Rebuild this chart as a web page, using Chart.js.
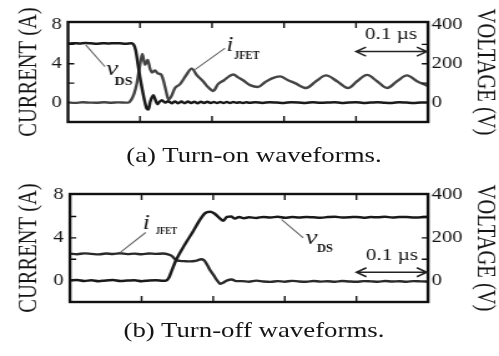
<!DOCTYPE html>
<html>
<head>
<meta charset="utf-8">
<script src="https://cdn.jsdelivr.net/npm/chart.js@4"></script>
<style>
  html, body { margin: 0; padding: 0; background: #fff; overflow: hidden; }
  #fig { position: absolute; left: 0; top: 0; width: 400px; height: 356px;
         transform: scaleX(1.2475); transform-origin: 0 0; }
  #fig canvas { position: absolute; left: 0; }
  .cap { position: absolute; left: 3.6px; width: 400px; text-align: center;
         font: 21.5px/21.5px 'Liberation Serif', serif; color: #151515; }
</style>
</head>
<body>
<div id="fig">
  <canvas id="turnOn" width="400" height="150" style="top:0"></canvas>
  <canvas id="turnOff" width="400" height="181" style="top:175px"></canvas>
  <div class="cap" style="top:145px">(a) Turn-on waveforms.</div>
  <div class="cap" style="top:320px">(b) Turn-off waveforms.</div>
</div>
<script>
// time in ns, current in A, voltage in V

// (a) turn-on
const onVdsTime = [0,8,16,24,32,40,48,56,64,72,80,88,
  91,94,97,100,103,106,109,111.5,114.5,118.5,121.5,124,127,130.5,134.5,139,
  144,148.5,153,157.5,162,166.5,171,175.5,180,184.5,189,193.5,198,202.5,207,211.5,216,220.5,225,229.5,234,238.5,243,247.5,252,
  260,270,280,290,300,310,320,330,340,350,360,370,380,390,400,410,420,430,440,450,460,470,480,490,500];
const onVds = [303,306,304,307,305,303,306,304,306,305,303,305,
  300,270,200,130,70,15,-28,-36,8,38,12,-8,4,12,0,7,
  -3,6,-3,5,-3,5,-2,4,-3,4,-2,4,-2,3,-2,3,-2,3,-2,3,-1,2,-2,2,-1,
  2,-2,2,0,-2,2,1,-2,2,-1,0,2,-2,1,2,-2,0,2,-1,-2,2,0,-2,1,0];

const onIjTime = [0,10,20,30,40,50,60,70,80,
  84,87.5,91.7,95.4,100,103.2,106.9,110.7,113.9,116.7,120.8,125,129.2,132.4,136.1,139.6,143.1,148.6,155.6,163.9,
  171.8,179.2,187.5,194.4,201.8,208.3,216.7,223.6,229.6,236.1,243.1,252.8,263.9,273.6,283.3,294.4,305.6,315.3,
  330.6,344.4,358.3,373.6,388.9,401.4,415.3,429.2,443.1,456.9,470.8,484.7,500];
const onIj = [0.02,-0.03,0.03,0,-0.02,0.03,-0.01,0.02,0,
  0,0.25,0.9,1.9,3.9,5.0,3.9,4.4,3.5,3.1,3.3,3.0,2.9,2.3,1.2,0.3,0.6,1.5,1.9,2.8,
  3.5,2.8,2.2,1.6,1.2,1.9,2.3,2.7,2.9,2.6,2.3,1.8,1.6,2.1,2.5,2.7,2.3,2.0,
  1.5,2.2,2.8,2.2,1.5,2.2,2.85,2.2,1.5,2.2,2.8,2.2,1.7];

// (b) turn-off
const offVdsTime = [0,10,20,30,40,50,60,70,80,90,100,110,120,130,
  134,138.3,142.5,148,160.6,171.8,181.6,188.5,195.5,201.1,208.1,213.7,219.3,224.9,230.4,236,243,
  250,260,270,280,290,300,310,320,330,340,350,360,370,380,390,400,410,420,430,440,450,460,470,480,490,500];
const offVds = [0,3,-2,2,-3,1,3,-2,0,2,-3,1,2,-1,
  0,15,50,95,170,230,285,315,322,315,295,280,298,300,290,298,292,
  296,293,298,295,299,294,297,295,298,296,294,297,299,295,296,298,294,297,296,299,295,297,298,295,296,297];

const offIjTime = [0,10,20,30,40,50,60,70,80,90,100,110,120,130,
  137,142.5,146,149,153.6,160,167.6,174,178,183,187.2,191.3,195.5,200.1,203.9,207.1,209.5,213.7,218.9,225.9,231.8,
  240,250,260,270,280,290,300,310,320,330,340,350,360,370,380,390,400,410,420,430,440,450,460,470,480,490,500];
const offIj = [2.52,2.47,2.55,2.5,2.45,2.53,2.49,2.56,2.48,2.52,2.46,2.54,2.5,2.53,
  2.45,2.3,2.05,1.9,1.85,1.82,1.8,1.83,1.9,2.0,1.9,1.5,1.0,0.56,0.15,-0.12,-0.3,-0.2,0,0.1,-0.05,
  -0.05,-0.1,0,-0.08,-0.12,-0.05,-0.1,-0.02,-0.08,-0.1,-0.04,-0.09,-0.06,-0.1,-0.03,-0.08,-0.11,-0.05,-0.07,-0.1,-0.04,-0.08,-0.06,-0.1,-0.05,-0.07,-0.08];

// axes
const currentTicks = [0, 4, 8];
const voltTicks = [0, 200, 400];
const currentMarks = [2, 4, 6];
const voltMarks = [100, 200, 300];
const timeMarks = [100, 200, 300, 400];
const spanLabel = '0.1 µs';
const spanTime = [400, 500];

const SERIF = "'Liberation Serif', 'Times New Roman', serif";

const pts = (ts, vs) => ts.map((t, i) => ({x: t, y: vs[i]}));

// frame, inside tick marks, axis titles and trace labels
const scopeFrame = {
  id: 'scopeFrame',
  afterDatasetsDraw(chart, args, o) {
    const {ctx, chartArea: a, scales: {x, yA, yV}} = chart;
    const px = t => x.getPixelForValue(t);
    const py = v => yA.getPixelForValue(v);
    ctx.save();
    ctx.strokeStyle = '#111';
    ctx.lineWidth = 1.4;
    ctx.beginPath();
    timeMarks.forEach(t => {
      ctx.moveTo(px(t), a.top); ctx.lineTo(px(t), a.top + 6);
      ctx.moveTo(px(t), a.bottom); ctx.lineTo(px(t), a.bottom - 6);
    });
    currentMarks.forEach(v => { ctx.moveTo(a.left, py(v)); ctx.lineTo(a.left + 5, py(v)); });
    voltMarks.forEach(v => { const y = yV.getPixelForValue(v); ctx.moveTo(a.right, y); ctx.lineTo(a.right - 5, y); });
    ctx.stroke();
    ctx.lineWidth = 2.4;
    ctx.strokeRect(a.left, a.top, a.width, a.height);

    // leader lines
    ctx.strokeStyle = '#666';
    ctx.lineWidth = 1.1;
    ctx.beginPath();
    o.leaders.forEach(l => { ctx.moveTo(px(l[0]), py(l[1])); ctx.lineTo(px(l[2]), py(l[3])); });
    ctx.stroke();

    // 0.1 us arrow
    const ay = py(o.arrowA), x1 = px(spanTime[0]), x2 = px(spanTime[1]) - 1;
    ctx.strokeStyle = '#222';
    ctx.lineWidth = 1.5;
    ctx.beginPath();
    ctx.moveTo(x1, ay); ctx.lineTo(x2, ay);
    ctx.moveTo(x1 + 8, ay - 4.5); ctx.lineTo(x1, ay); ctx.lineTo(x1 + 8, ay + 4.5);
    ctx.moveTo(x2 - 8, ay - 4.5); ctx.lineTo(x2, ay); ctx.lineTo(x2 - 8, ay + 4.5);
    ctx.stroke();

    ctx.fillStyle = '#151515';
    ctx.textAlign = 'center';
    ctx.textBaseline = 'middle';
    o.labels.forEach(l => {
      ctx.font = l.font;
      if (l.w) ctx.fillText(l.text, px(l.t), py(l.a), l.w);
      else ctx.fillText(l.text, px(l.t), py(l.a));
    });
    ctx.font = '17px ' + SERIF;
    ctx.fillText(spanLabel, px(o.spanAt[0]), py(o.spanAt[1]));

    // axis titles
    const mid = (a.top + a.bottom) / 2;
    ctx.font = '20.5px ' + SERIF;
    ctx.save();
    ctx.translate(23.5, mid); ctx.rotate(-Math.PI / 2);
    ctx.fillText('CURRENT (A)', 0, 0);
    ctx.restore();
    ctx.save();
    ctx.translate(388.8, mid); ctx.rotate(Math.PI / 2);
    ctx.fillText('VOLTAGE (V)', 0, 0);
    ctx.restore();
    ctx.restore();
  }
};

function makePanel(id, p) {
  new Chart(document.getElementById(id), {
    type: 'line',
    data: {
      datasets: [{
        label: 'vDS',
        data: pts(p.vdsTime, p.vds),
        yAxisID: 'yV',
        borderColor: p.vdsColor,
        borderWidth: 2.5,
        pointRadius: 0,
        cubicInterpolationMode: 'monotone'
      }, {
        label: 'iJFET',
        data: pts(p.ijTime, p.ij),
        yAxisID: 'yA',
        borderColor: p.ijColor,
        borderWidth: 2.4,
        pointRadius: 0,
        cubicInterpolationMode: 'monotone'
      }]
    },
    options: {
      responsive: false,
      animation: false,
      layout: {padding: {left: 0, right: 0, top: p.padTop, bottom: p.padBottom}},
      plugins: {
        legend: {display: false},
        tooltip: {enabled: false},
        scopeFrame: p.marks
      },
      scales: {
        x: {type: 'linear', min: 0, max: 500, display: false},
        yA: {
          type: 'linear', position: 'left', min: p.aMin, max: p.aMax,
          afterBuildTicks: s => { s.ticks = currentTicks.map(v => ({value: v})); },
          afterFit: s => { s.width = p.left; },
          grid: {display: false, drawTicks: false},
          border: {display: false},
          ticks: {padding: 5, color: '#151515', font: {family: SERIF, size: 16.5}}
        },
        yV: {
          type: 'linear', position: 'right', min: p.aMin * 50, max: p.aMax * 50,
          afterBuildTicks: s => { s.ticks = voltTicks.map(v => ({value: v})); },
          afterFit: s => { s.width = 400 - p.right; },
          grid: {display: false, drawTicks: false},
          border: {display: false},
          ticks: {padding: 3, color: '#151515', font: {family: SERIF, size: 16.5}}
        }
      }
    },
    plugins: [scopeFrame]
  });
}

makePanel('turnOn', {
  vdsTime: onVdsTime, vds: onVds, ijTime: onIjTime, ij: onIj,
  vdsColor: '#1a1a1a', ijColor: '#444',
  aMin: -2, aMax: 8.3, padTop: 22, padBottom: 28, left: 54.5, right: 343.1,
  marks: {
    leaders: [[24.6, 5.95, 51.4, 3.69], [218.1, 5.6, 176.4, 3.4]],
    arrowA: 5.25,
    spanAt: [448.6, 6.98],
    labels: [
      {text: 'v', t: 61.1, a: 3.43, font: 'italic 22px ' + SERIF},
      {text: 'DS', t: 77.1, a: 2.17, font: 'bold 12px ' + SERIF, w: 14.5},
      {text: 'i', t: 225, a: 5.9, font: 'italic 20px ' + SERIF},
      {text: 'JFET', t: 248.2, a: 4.83, font: 'bold 12px ' + SERIF, w: 20.5}
    ]
  }
});

makePanel('turnOff', {
  vdsTime: offVdsTime, vds: offVds, ijTime: offIjTime, ij: offIj,
  vdsColor: '#1a1a1a', ijColor: '#2a2a2a',
  aMin: -2, aMax: 8.1, padTop: 19, padBottom: 54, left: 56.1, right: 343.1,
  marks: {
    leaders: [[105.7, 4.5, 69.8, 2.62], [295.6, 5.71, 325.8, 3.99]],
    arrowA: 0.78,
    spanAt: [449.7, 2.39],
    labels: [
      {text: 'i', t: 106.4, a: 5.35, font: 'italic 20px ' + SERIF},
      {text: 'JFET', t: 134.5, a: 4.61, font: 'bold 11px ' + SERIF, w: 17},
      {text: 'v', t: 337, a: 3.95, font: 'italic 22px ' + SERIF},
      {text: 'DS', t: 356.1, a: 2.99, font: 'bold 12px ' + SERIF, w: 13}
    ]
  }
});
</script>
</body>
</html>
